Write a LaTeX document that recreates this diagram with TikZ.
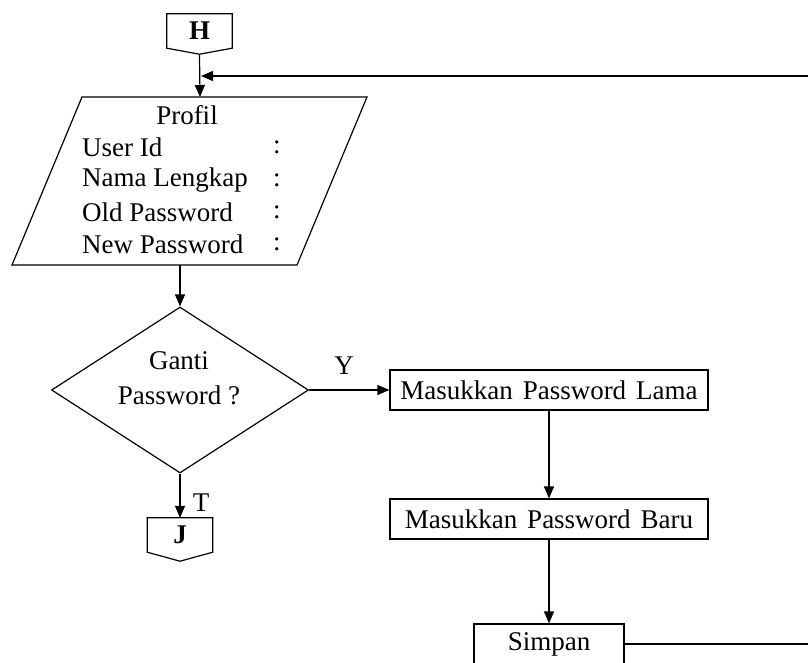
\documentclass[tikz,border=0pt]{standalone}
\usepackage{fontspec}
\setmainfont{Liberation Serif}
\usetikzlibrary{arrows.meta,calc,shapes.geometric}
\newcommand{\wsp}{\spaceskip=10pt\relax}
\begin{document}
\begin{tikzpicture}[x=1pt,y=-1pt,
  every node/.style={font=\fontsize{27}{32}\selectfont},
  ln/.style={line width=1.2pt},
  arr/.style={line width=1.2pt,-{Triangle[length=12pt,width=10pt]}},
  proc/.style={draw,line width=1.2pt,rectangle,minimum width=318pt,minimum height=40pt,inner sep=0pt},
  lbl/.style={inner sep=0pt,anchor=west},
  conn/.style={minimum width=65pt,minimum height=34pt,inner sep=0pt,font=\fontsize{27}{32}\selectfont\bfseries}
]
\clip (0,0) rectangle (808,662);
\useasboundingbox (0,0) rectangle (808,662);

% off-page connector H
\node[conn] (H) at (199.5,31) {H};
\coordinate (Htip) at ($(H.south)+(0,6)$);
\draw[ln] (H.north west) -- (H.north east) -- (H.south east) -- (Htip) -- (H.south west) -- cycle;

% parallelogram (input/output)
\node[inner sep=0pt,minimum width=285pt,minimum height=168pt] (prof) at (189.5,181) {};
\draw[ln] (82,97) -- (367,97) -- (297,265) -- (12,265) -- cycle;
\node[inner sep=0pt] (ptitle) at (187,115) {Profil};
\node[lbl] (l1) at (82,147) {User Id};
\node[lbl] (l2) at (82,180) {Nama Lengkap};
\node[lbl] (l3) at (82,212) {Old Password};
\node[lbl] (l4) at (82,244) {New Password};
\node[lbl] (c1) at (273,147) {:};
\node[lbl] (c2) at (273,180) {:};
\node[lbl] (c3) at (273,212) {:};
\node[lbl] (c4) at (273,244) {:};
\coordinate (ptop) at (200,97);
\coordinate (pbot) at (180,265);

% decision
\node[draw,ln,diamond,minimum width=257pt,minimum height=166pt,inner sep=0pt] (dec) at (180,390) {};
\node[align=center,inner sep=0pt] (dect) at (179,378) {Ganti\\[3pt]Password ?};

% processes
\node[proc] (b1) at (549,390) {\wsp Masukkan Password Lama};
\node[proc] (b2) at (549,519) {\wsp Masukkan Password Baru};
\node[draw,line width=1.2pt,rectangle,minimum width=150pt,minimum height=40pt,inner sep=0pt] (simp) at (549,644) {Simpan};

% off-page connector J
\node[conn] (J) at (180,535) {J};
\coordinate (Jtip) at ($(J.south)+(0,9)$);
\draw[ln] (J.north west) -- (J.north east) -- (J.south east) -- (Jtip) -- (J.south west) -- cycle;

% connectors
\draw[arr] (Htip) -- (ptop);
\draw[arr] (pbot) -- (dec.north);
\draw[arr] (dec.east) -- (b1.west);
\node[inner sep=0pt] (ylbl) at (344,366) {Y};
\draw[arr] (b1.south) -- (b2.north);
\draw[arr] (b2.south) -- (simp.north);
\draw[arr] (dec.south) -- (J.north);
\node[inner sep=0pt] (tlbl) at (201,503) {T};

\coordinate (fb) at (830,76);
\coordinate (join) at (201,76);
\draw[arr] (simp.east) -| (fb) -- (join);
\end{tikzpicture}
\end{document}
